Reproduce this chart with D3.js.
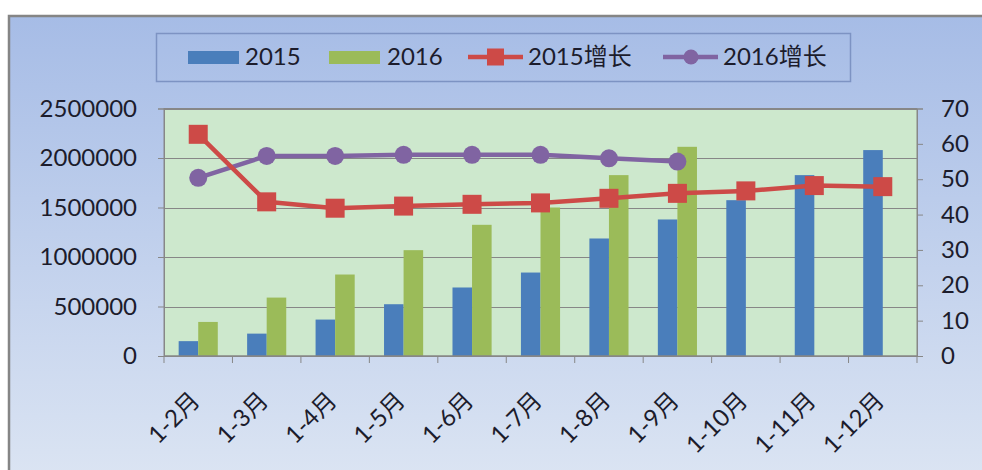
<!DOCTYPE html>
<html>
<head>
<meta charset="utf-8">
<script src="https://cdn.jsdelivr.net/npm/d3@7/dist/d3.min.js"></script>
<style>
  html, body { margin: 0; padding: 0; background: #ffffff; }
  svg { display: block; }
  text { font-family: Lato, "Noto Sans CJK SC", sans-serif; fill: #1c1c2c; }
</style>
</head>
<body>
<svg id="chart" width="982" height="470"></svg>
<script>
// ---- data ----
const categories = ["1-2月", "1-3月", "1-4月", "1-5月", "1-6月", "1-7月", "1-8月", "1-9月", "1-10月", "1-11月", "1-12月"];
const sales2015 = [150000, 226000, 368000, 523000, 692000, 843000, 1187000, 1379000, 1574000, 1827000, 2080000];
const sales2016 = [344000, 590000, 823000, 1069000, 1325000, 1500000, 1827000, 2113000, null, null, null];
const growth2015 = [62.7, 43.6, 41.8, 42.4, 42.9, 43.3, 44.6, 46.0, 46.7, 48.2, 47.9];
const growth2016 = [50.4, 56.6, 56.6, 56.9, 56.9, 56.9, 55.9, 55.0, null, null, null];
const leftTicks = [0, 500000, 1000000, 1500000, 2000000, 2500000];
const rightTicks = [0, 10, 20, 30, 40, 50, 60, 70];
const legendLabels = ["2015", "2016", "2015增长", "2016增长"];

const C = { blue: "#4a7ebb", green: "#9bbb59", red: "#cd4a47", purple: "#8064a2", grid: "#878787" };

const svg = d3.select("#chart");
const defs = svg.append("defs");
const grad = defs.append("linearGradient").attr("id", "bg").attr("x1", 0).attr("y1", 0).attr("x2", 0).attr("y2", 1);
grad.append("stop").attr("offset", "0%").attr("stop-color", "#a6bce6");
grad.append("stop").attr("offset", "100%").attr("stop-color", "#dce5f3");

// chart area (cropped on right and bottom)
svg.append("rect").attr("x", 9).attr("y", 16).attr("width", 990).attr("height", 470)
  .attr("fill", "url(#bg)").attr("stroke", "#858585").attr("stroke-width", 2.5);

const P = { left: 164, right: 917, top: 108.5, bottom: 356 };

const x = d3.scaleBand().domain(categories).range([P.left, P.right]).paddingInner(0).paddingOuter(0);
const xs = d3.scaleBand().domain(["2015", "2016"]).range([0, x.bandwidth()]).paddingInner(0).paddingOuter(0.75);
const yL = d3.scaleLinear().domain([0, 2500000]).range([P.bottom, P.top]);
const yR = d3.scaleLinear().domain([0, 70]).range([P.bottom, P.top]);

// plot area
svg.append("rect").attr("x", P.left).attr("y", P.top).attr("width", P.right - P.left).attr("height", P.bottom - P.top)
  .attr("fill", "#cde8cd");

// gridlines
svg.append("g").selectAll("line").data(leftTicks).join("line")
  .attr("x1", P.left).attr("x2", P.right)
  .attr("y1", d => Math.round(yL(d)) + 0.5).attr("y2", d => Math.round(yL(d)) + 0.5)
  .attr("stroke", C.grid).attr("stroke-width", 1);

// bars
const barG = svg.append("g");
barG.selectAll("rect.b15").data(categories).join("rect")
  .attr("x", d => x(d) + xs("2015")).attr("width", xs.bandwidth())
  .attr("y", (d, i) => yL(sales2015[i])).attr("height", (d, i) => yL(0) - yL(sales2015[i]))
  .attr("fill", C.blue);
barG.selectAll("rect.b16").data(categories.filter((d, i) => sales2016[i] != null)).join("rect")
  .attr("x", d => x(d) + xs("2016")).attr("width", xs.bandwidth())
  .attr("y", (d, i) => yL(sales2016[i])).attr("height", (d, i) => yL(0) - yL(sales2016[i]))
  .attr("fill", C.green);

// plot border lines (top, right axis, left axis)
svg.append("rect").attr("x", P.left).attr("y", P.top).attr("width", P.right - P.left).attr("height", P.bottom - P.top)
  .attr("fill", "none").attr("stroke", C.grid).attr("stroke-width", 1);

// axes
const axL = svg.append("g").attr("transform", `translate(${P.left},0)`)
  .call(d3.axisLeft(yL).tickValues(leftTicks).tickFormat(d3.format("d")).tickSize(6).tickPadding(21));
const axR = svg.append("g").attr("transform", `translate(${P.right},0)`)
  .call(d3.axisRight(yR).tickValues(rightTicks).tickFormat(d3.format("d")).tickSize(6).tickPadding(18));
[axL, axR].forEach(a => {
  a.select(".domain").attr("stroke", C.grid);
  a.selectAll(".tick line").attr("stroke", C.grid);
  a.selectAll(".tick text").attr("font-size", 24).attr("font-family", "Lato, sans-serif").attr("fill", "#1c1c2c");
});

// x axis line, ticks and labels
const xg = svg.append("g");
xg.append("line").attr("x1", P.left).attr("x2", P.right).attr("y1", P.bottom).attr("y2", P.bottom).attr("stroke", C.grid);
const bounds = categories.map(c => x(c)).concat([x.range()[1]]);
xg.selectAll("line.t").data(bounds).join("line").attr("class", "t")
  .attr("x1", d => d).attr("x2", d => d).attr("y1", P.bottom).attr("y2", P.bottom + 7).attr("stroke", C.grid);
xg.selectAll("text").data(categories).join("text")
  .attr("transform", d => `translate(${x(d) + x.bandwidth() / 2 + 3},${P.bottom + 46}) rotate(-45)`)
  .attr("text-anchor", "end").attr("font-size", 24).text(d => d);

// lines
function drawLine(vals, color, marker) {
  const pts = categories.map((c, i) => ({ c, v: vals[i] })).filter(p => p.v != null);
  const line = d3.line().x(p => x(p.c) + x.bandwidth() / 2).y(p => yR(p.v));
  svg.append("path").datum(pts).attr("d", line).attr("fill", "none")
    .attr("stroke", color).attr("stroke-width", 4.5).attr("stroke-linejoin", "round");
  const g = svg.append("g");
  if (marker === "square") {
    g.selectAll("rect").data(pts).join("rect")
      .attr("x", p => x(p.c) + x.bandwidth() / 2 - 9.5).attr("y", p => yR(p.v) - 9.5)
      .attr("width", 19).attr("height", 19).attr("fill", color);
  } else {
    g.selectAll("circle").data(pts).join("circle")
      .attr("cx", p => x(p.c) + x.bandwidth() / 2).attr("cy", p => yR(p.v))
      .attr("r", 9).attr("fill", color);
  }
}
drawLine(growth2016, C.purple, "circle");
drawLine(growth2015, C.red, "square");

// legend
const lg = svg.append("g");
lg.append("rect").attr("x", 156.5).attr("y", 33.5).attr("width", 694).attr("height", 48)
  .attr("fill", "none").attr("stroke", "#7d93c3").attr("stroke-width", 1.5);
const ly = 57;
lg.append("rect").attr("x", 188).attr("y", 51).attr("width", 51).attr("height", 13).attr("fill", C.blue);
lg.append("text").attr("x", 245).attr("y", ly).attr("dy", "0.35em").attr("font-size", 24).text(legendLabels[0]);
lg.append("rect").attr("x", 329).attr("y", 51).attr("width", 51).attr("height", 13).attr("fill", C.green);
lg.append("text").attr("x", 387).attr("y", ly).attr("dy", "0.35em").attr("font-size", 24).text(legendLabels[1]);
lg.append("line").attr("x1", 468).attr("x2", 523).attr("y1", ly).attr("y2", ly).attr("stroke", C.red).attr("stroke-width", 4.5);
lg.append("rect").attr("x", 495.5 - 8.5).attr("y", ly - 8.5).attr("width", 17).attr("height", 17).attr("fill", C.red);
lg.append("text").attr("x", 528).attr("y", ly).attr("dy", "0.35em").attr("font-size", 24).text(legendLabels[2]);
lg.append("line").attr("x1", 663).attr("x2", 718).attr("y1", ly).attr("y2", ly).attr("stroke", C.purple).attr("stroke-width", 4.5);
lg.append("circle").attr("cx", 691).attr("cy", ly).attr("r", 7.5).attr("fill", C.purple);
lg.append("text").attr("x", 723).attr("y", ly).attr("dy", "0.35em").attr("font-size", 24).text(legendLabels[3]);
</script>
</body>
</html>
